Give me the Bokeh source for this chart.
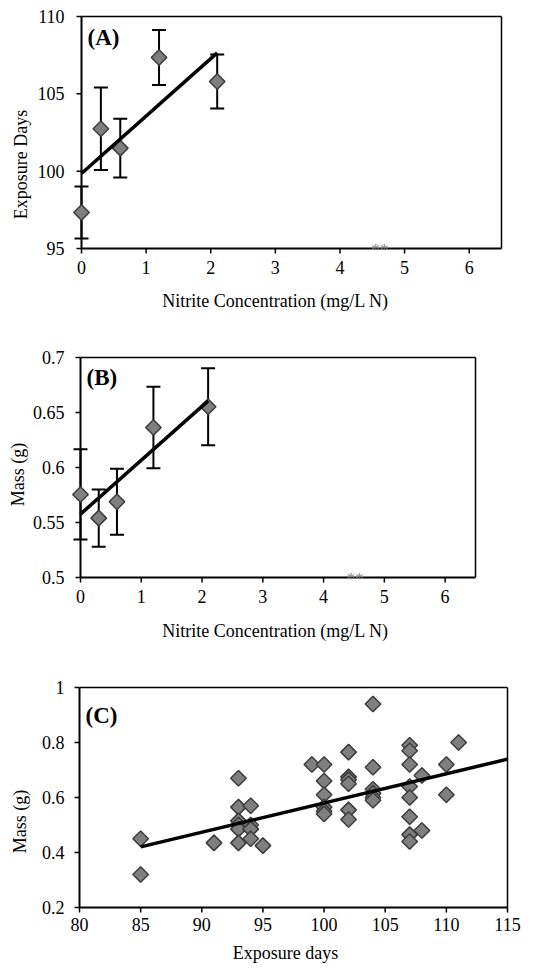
from bokeh.plotting import figure
from bokeh.layouts import column
from bokeh.models import (ColumnDataSource, Whisker, TeeHead, Label, FixedTicker,
                          LinearAxis, Title)
from bokeh.core.properties import value
from bokeh.embed import file_html
from bokeh.resources import INLINE
import numpy as np

# ---------------- data ----------------
nitrite = [0.0, 0.3, 0.6, 1.2, 2.1]

days_mean = [97.33, 102.74, 101.49, 107.35, 105.80]
days_err = [1.68, 2.67, 1.90, 1.78, 1.75]
days_trend_x = [0.0, 2.1]
days_trend_y = [99.85, 107.65]

mass_mean = [0.5755, 0.554, 0.5688, 0.6364, 0.6552]
mass_err = [0.041, 0.026, 0.030, 0.037, 0.035]
mass_trend_x = [0.0, 2.1]
mass_trend_y = [0.5576, 0.6606]

star_x_A = [4.62]
star_x_B = [4.52]

exp_days = [85, 85, 91,
            93, 93, 93, 93, 93, 93,
            94, 94, 94, 94, 95, 99,
            100, 100, 100, 100, 100, 100,
            102, 102, 102, 102, 102, 102,
            104, 104, 104, 104, 104, 104,
            107, 107, 107, 107, 107, 107, 107, 107,
            108, 108, 110, 110, 111]
exp_mass = [0.45, 0.32, 0.435,
            0.67, 0.565, 0.515, 0.50, 0.485, 0.435,
            0.57, 0.50, 0.485, 0.45, 0.425, 0.72,
            0.72, 0.66, 0.61, 0.565, 0.55, 0.54,
            0.765, 0.675, 0.665, 0.65, 0.555, 0.52,
            0.94, 0.71, 0.63, 0.615, 0.60, 0.59,
            0.79, 0.77, 0.72, 0.64, 0.60, 0.53, 0.465, 0.44,
            0.68, 0.48, 0.72, 0.61, 0.80]
exp_trend_x = [85, 115]
exp_trend_y = [0.4206, 0.7394]

ticks_A_x = [0, 1, 2, 3, 4, 5, 6]
ticks_A_y = [95, 100, 105, 110]
labels_A_y = ["95", "100", "105", "110"]
ticks_B_y = [0.5, 0.55, 0.6, 0.65, 0.7]
labels_B_y = ["0.5", "0.55", "0.6", "0.65", "0.7"]
ticks_C_x = [80, 85, 90, 95, 100, 105, 110, 115]
ticks_C_y = [0.2, 0.4, 0.6, 0.8, 1.0]
labels_C_y = ["0.2", "0.4", "0.6", "0.8", "1"]

# ---------------- styling / layout (page pixels) ----------------
SERIF = "Liberation Serif"
FILL = "#7f7f7f"
EDGE = "#3c3c3c"
PAGE_W = 545
FRAME_L, FRAME_R = 68, 514      # common (invisible) frame for all panels
PAD_TOP, PAD_BOT = 4, 8
TICK_LEN = 5
TITLE_PX = 18


def spacer(p, side, gap, at):
    # an axis with a single white (invisible) tick of length `gap`: reserves space only
    if gap <= 0:
        return
    p.add_layout(LinearAxis(ticker=FixedTicker(ticks=[at]), major_tick_out=gap,
                            major_tick_in=0, major_tick_line_color="white",
                            major_tick_line_width=1,
                            minor_tick_line_color=None, axis_line_color=None,
                            major_label_text_color=None), side)


def title(p, side, text, offset):
    p.add_layout(Title(text=text, align="left", offset=offset, standoff=0,
                       vertical_align="top", text_font=SERIF,
                       text_font_size=f"{TITLE_PX}px", text_font_style="normal",
                       text_color="black"), side)


def make_panel(xlo, xhi, ylo, yhi, box, fig_top, fig_h, xlabel, ylabel,
               xticks, yticks, ylabels, panel_txt, xtitle, ytitle, lab_top,
               xtick_standoff):
    bl, br, bt, bb = box             # data box in page px
    sx = (xhi - xlo) / (br - bl)
    sy = (yhi - ylo) / (bb - bt)
    frame_top = bt - PAD_TOP
    frame_bot = bb + PAD_BOT
    p = figure(frame_width=FRAME_R - FRAME_L, frame_height=frame_bot - frame_top,
               x_range=(xlo - (bl - FRAME_L) * sx, xhi + (FRAME_R - br) * sx),
               y_range=(ylo - PAD_BOT * sy, yhi + PAD_TOP * sy),
               output_backend="svg", toolbar_location=None,
               min_border_left=FRAME_L, min_border_right=PAGE_W - FRAME_R,
               min_border_top=frame_top - fig_top,
               min_border_bottom=fig_top + fig_h - frame_bot)
    p.grid.visible = False
    p.outline_line_color = None
    p.background_fill_color = "white"
    p.border_fill_color = "white"
    # tick-label axes (lines and ticks are drawn below as glyphs)
    for ax in (p.xaxis[0], p.yaxis[0]):
        ax.axis_line_color = None
        ax.major_tick_line_color = None
        ax.minor_tick_line_color = None
        ax.major_tick_out = 0
        ax.major_tick_in = 0
        ax.major_label_text_font = SERIF
        ax.major_label_text_font_size = "18px"
        ax.major_label_text_color = "black"
    xa, ya = p.xaxis[0], p.yaxis[0]
    xa.ticker = FixedTicker(ticks=xticks)
    ya.ticker = FixedTicker(ticks=yticks)
    ya.major_label_overrides = {t: l for t, l in zip(yticks, ylabels)}
    xa.major_label_standoff = xtick_standoff
    ya.major_label_standoff = 4
    # axis titles: (centre along axis, length of text, gap from tick labels)
    xc, xlen, xgap = xtitle
    yc, ylen, ygap = ytitle
    spacer(p, "below", xgap, xhi)
    title(p, "below", xlabel, xc - xlen / 2 - FRAME_L)
    spacer(p, "left", ygap, ylo)
    title(p, "left", ylabel, frame_bot - (yc + ylen / 2))
    # plot-area box: axis lines, ticks, top and right borders
    p.segment(x0=[xlo, xhi], y0=[yhi, ylo], x1=[xhi, xhi], y1=[yhi, yhi],
              line_color="black", line_width=1.5)
    p.segment(x0=[xlo, xlo], y0=[ylo, ylo], x1=[xhi, xlo], y1=[ylo, yhi],
              line_color="black", line_width=2)
    p.segment(x0=[xlo - TICK_LEN * sx] * len(yticks), y0=yticks,
              x1=[xlo] * len(yticks), y1=yticks, line_color="black", line_width=1.5)
    p.segment(x0=xticks, y0=[ylo - TICK_LEN * sy] * len(xticks),
              x1=xticks, y1=[ylo] * len(xticks), line_color="black", line_width=1.5)
    p.add_layout(Label(x=bl + 6 - FRAME_L, y=frame_bot - lab_top,
                       x_units="screen", y_units="screen", text=panel_txt,
                       text_font=SERIF, text_font_size="23px", text_font_style="bold",
                       text_baseline="top", text_align="left", text_color="black"))
    return p


def error_panel(p, means, errs, tx, ty, stars, ylo):
    src = ColumnDataSource(dict(x=nitrite, y=means,
                                lo=[m - e for m, e in zip(means, errs)],
                                hi=[m + e for m, e in zip(means, errs)]))
    p.add_layout(Whisker(base="x", upper="hi", lower="lo", source=src, level="underlay",
                         line_color="black", line_width=2,
                         upper_head=TeeHead(size=14, line_width=2, line_color="black"),
                         lower_head=TeeHead(size=14, line_width=2, line_color="black")))
    p.scatter("x", "y", source=src, marker="square", angle=np.pi / 4, size=11,
              fill_color=FILL, line_color=EDGE, line_width=1.5)
    p.line(tx, ty, line_color="black", line_width=3.5)
    p.text(x=stars, y=[ylo] * len(stars), text=["**"], text_font=value(SERIF),
           text_font_size="17px", text_color="#808080", text_align="center",
           text_baseline="alphabetic", y_offset=1)


# title lengths (px) for Liberation Serif 18px
LEN_NITRITE = 226.5
LEN_EXPDAYS_CAP = 109.5
LEN_MASS = 63.5
LEN_EXPDAYS = 105.5

pA = make_panel(0, 6.5, 95, 110, (81, 501, 16, 248), 0, 320,
                "Nitrite Concentration (mg/L N)", "Exposure Days",
                ticks_A_x, ticks_A_y, labels_A_y, "(A)",
                (275, LEN_NITRITE, 14), (164, LEN_EXPDAYS_CAP, 2), 24, 4)
error_panel(pA, days_mean, days_err, days_trend_x, days_trend_y, star_x_A, 95)

pB = make_panel(0, 6.5, 0.5, 0.7, (80, 475, 357, 577), 320, 330,
                "Nitrite Concentration (mg/L N)", "Mass (g)",
                ticks_A_x, ticks_B_y, labels_B_y, "(B)",
                (275, LEN_NITRITE, 15), (474, LEN_MASS, 0), 364, 4)
error_panel(pB, mass_mean, mass_err, mass_trend_x, mass_trend_y, star_x_B, 0.5)

pC = make_panel(80, 115, 0.2, 1.0, (79, 507, 687, 907), 650, 319,
                "Exposure days", "Mass (g)",
                ticks_C_x, ticks_C_y, labels_C_y, "(C)",
                (285, LEN_EXPDAYS, 9), (821, LEN_MASS, 7), 702, 2)
pC.scatter(exp_days, exp_mass, marker="square", angle=np.pi / 4, size=11,
           fill_color=FILL, line_color=EDGE, line_width=1.5)
pC.line(exp_trend_x, exp_trend_y, line_color="black", line_width=3.5)

layout = column(pA, pB, pC)
open("out.html", "w").write(file_html(layout, INLINE))
